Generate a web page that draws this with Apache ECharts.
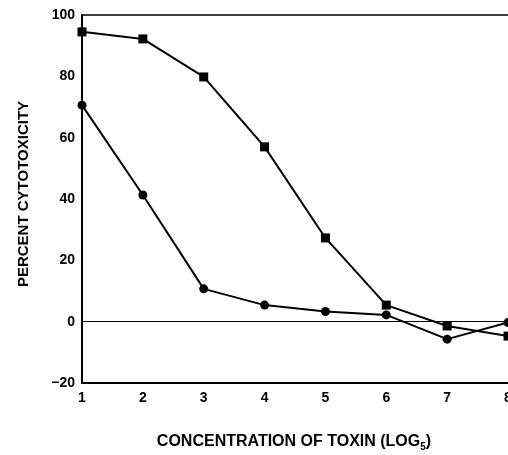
<!DOCTYPE html>
<html><head><meta charset="utf-8">
<script src="https://cdn.jsdelivr.net/npm/echarts@6/dist/echarts.min.js"></script>
<style>html,body{margin:0;padding:0;background:#fff}#c{width:508px;height:455px}</style>
</head><body><div id="c"></div>
<script>
const concentrations = [1, 2, 3, 4, 5, 6, 7, 8];
const squareSeries = [94.5, 92.2, 79.8, 57.0, 27.3, 5.4, -1.4, -4.7];
const circleSeries = [70.6, 41.3, 10.7, 5.4, 3.3, 2.2, -5.7, -0.3];
const yTicks = [-20, 0, 20, 40, 60, 80, 100];
const yTitle = 'PERCENT CYTOTOXICITY';
const xTitleMain = 'CONCENTRATION OF TOXIN (LOG';
const xTitleSub = '5';

const font = 'Liberation Sans, Arial, sans-serif';
const chart = echarts.init(document.getElementById('c'), null, {renderer: 'canvas'});
const pairs = s => concentrations.map((x, i) => [x, s[i]]);
chart.setOption({
  animation: false,
  backgroundColor: '#fff',
  grid: {left: 82, right: 0, top: 15, bottom: 72, containLabel: false, outerBoundsMode: 'none'},
  xAxis: [{
    type: 'value', min: 1, max: 8, interval: 1,
    axisLine: {show: true, onZero: false, lineStyle: {color: '#000', width: 2}},
    axisTick: {show: false}, splitLine: {show: false},
    axisLabel: {color: '#000', fontFamily: font, fontWeight: 'bold', fontSize: 14, margin: 8}
  }, {
    type: 'value', min: 1, max: 8, position: 'top',
    axisLine: {show: true, onZero: false, lineStyle: {color: '#000', width: 1.5}},
    axisTick: {show: false}, splitLine: {show: false}, axisLabel: {show: false}
  }],
  yAxis: {
    type: 'value', min: -20, max: 100, interval: 20,
    axisLine: {show: true, onZero: false, lineStyle: {color: '#000', width: 2}},
    axisTick: {show: false}, splitLine: {show: false},
    axisLabel: {color: '#000', fontFamily: font, fontWeight: 'bold', fontSize: 14, margin: 7,
      formatter: v => yTicks.includes(v) ? String(v).replace('-', '\u2212') : ''}
  },
  series: [{
    type: 'line', data: pairs(squareSeries), symbol: 'rect', symbolSize: 9,
    lineStyle: {color: '#000', width: 2}, itemStyle: {color: '#000'},
    markLine: {silent: true, symbol: 'none', label: {show: false},
      lineStyle: {color: '#000', width: 1, type: 'solid'}, data: [{yAxis: 0}]}
  }, {
    type: 'line', data: pairs(circleSeries), symbol: 'circle', symbolSize: 9,
    lineStyle: {color: '#000', width: 2}, itemStyle: {color: '#000'}
  }],
  graphic: [{
    type: 'text', x: 24, y: 194, rotation: Math.PI / 2,
    style: {text: yTitle, font: 'bold 15px ' + font, fill: '#000', align: 'center', verticalAlign: 'middle'}
  }, {
    type: 'text', x: 294, y: 441,
    style: {
      text: '{m|' + xTitleMain + '}{s|' + xTitleSub + '}{m|)}',
      align: 'center', verticalAlign: 'middle',
      rich: {
        m: {font: 'bold 16px ' + font, fill: '#000', lineHeight: 18, verticalAlign: 'bottom'},
        s: {font: 'bold 10px ' + font, fill: '#000', lineHeight: 18, verticalAlign: 'bottom', padding: [0, 0, -2, 0]}
      }
    }
  }]
});
</script></body></html>
